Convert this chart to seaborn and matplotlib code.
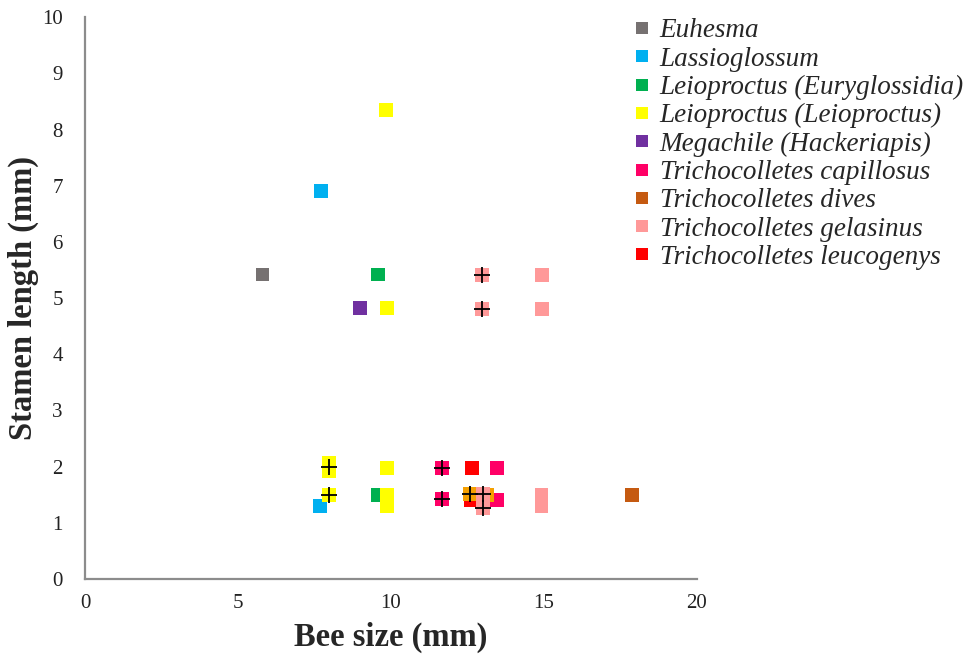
import matplotlib
matplotlib.use("Agg")
import matplotlib.pyplot as plt
from matplotlib.lines import Line2D
import seaborn as sns
import pandas as pd

# Legend taxa and their colours
taxa = [
    "Euhesma",
    "Lassioglossum",
    "Leioproctus (Euryglossidia)",
    "Leioproctus (Leioproctus)",
    "Megachile (Hackeriapis)",
    "Trichocolletes capillosus",
    "Trichocolletes dives",
    "Trichocolletes gelasinus",
    "Trichocolletes leucogenys",
]
colors = [
    "#767171", "#00B0F0", "#00B050", "#FFFF00", "#7030A0",
    "#FF0066", "#C55A11", "#FF9999", "#FF0000",
]

# Bee size (mm) and stamen length (mm) per taxon
euhesma_x, euhesma_y = [5.8], [5.42]
lassio_x, lassio_y = [7.7, 7.68], [6.9, 1.3]
eury_x, eury_y = [9.57, 9.56], [5.42, 1.49]
leio_x = [9.85, 9.87, 9.86, 7.97, 7.97, 7.97, 9.86, 9.86]
leio_y = [8.35, 4.82, 1.98, 2.06, 1.93, 1.49, 1.49, 1.29]
mega_x, mega_y = [8.99], [4.82]
capil_x = [11.67, 11.67, 13.46, 13.46]
capil_y = [1.97, 1.43, 1.98, 1.41]
dives_x, dives_y = [17.88], [1.49]
leuco_x, leuco_y = [12.65, 12.6], [1.98, 1.4]
# orange-marked dives records inside the 12-13 mm cluster
dives_light_x, dives_light_y = [12.58, 13.15], [1.51, 1.5]
gelas_x = [12.97, 12.97, 14.93, 14.93, 13.0, 13.0, 14.92, 14.92]
gelas_y = [5.41, 4.8, 5.41, 4.8, 1.51, 1.26, 1.49, 1.29]

# Records flagged with a cross
cross_x = [7.97, 7.97, 11.67, 11.67, 12.58, 13.0, 13.0, 12.97, 12.97]
cross_y = [1.99, 1.49, 1.97, 1.43, 1.51, 1.51, 1.26, 5.41, 4.8]

# drawing order (later rows sit on top)
groups = [
    ("Euhesma", euhesma_x, euhesma_y),
    ("Lassioglossum", lassio_x, lassio_y),
    ("Leioproctus (Euryglossidia)", eury_x, eury_y),
    ("Leioproctus (Leioproctus)", leio_x, leio_y),
    ("Megachile (Hackeriapis)", mega_x, mega_y),
    ("Trichocolletes capillosus", capil_x, capil_y),
    ("Trichocolletes dives", dives_x, dives_y),
    ("Trichocolletes leucogenys", leuco_x, leuco_y),
    ("dives (light)", dives_light_x, dives_light_y),
    ("Trichocolletes gelasinus", gelas_x, gelas_y),
]
rows = []
for name, xs, ys in groups:
    for x, y in zip(xs, ys):
        rows.append({"taxon": name, "bee": x, "stamen": y})
df = pd.DataFrame(rows)

palette = dict(zip(taxa, colors))
palette["dives (light)"] = "#F5A000"

sns.set_style("white")
plt.rcParams["font.family"] = ["Liberation Serif", "DejaVu Serif"]

fig = plt.figure(figsize=(9.8, 6.59), dpi=100)
ax = fig.add_axes([0.0867, 0.1214, 0.6245, 0.8526])

sns.scatterplot(data=df, x="bee", y="stamen", hue="taxon", palette=palette,
                marker="s", s=100, linewidth=0, legend=False, ax=ax, zorder=3)
ax.plot(cross_x, cross_y, linestyle="none", marker="+", color="black",
        markersize=12, markeredgewidth=1.3, zorder=4)

ax.set_xlim(0, 20)
ax.set_ylim(0, 10)
ax.set_xticks([0, 5, 10, 15, 20])
ax.set_yticks(range(0, 11))
ax.tick_params(axis="both", length=0, labelsize=15, colors="#222222")
ax.tick_params(axis="y", pad=16)
ax.tick_params(axis="x", pad=11)
for side in ("top", "right"):
    ax.spines[side].set_visible(False)
for side in ("left", "bottom"):
    ax.spines[side].set_color("#8c8c8c")
    ax.spines[side].set_linewidth(1.6)
ax.grid(False)

ax.set_xlabel("Bee size (mm)", fontsize=23.5, fontweight="bold", labelpad=6)
ax.set_ylabel("Stamen length (mm)", fontsize=23.5, fontweight="bold", labelpad=2)

handles = [Line2D([], [], linestyle="none", marker="s", markersize=8.5,
                  markerfacecolor=c, markeredgewidth=0) for c in colors]
leg = fig.legend(handles, taxa, loc="upper left", bbox_to_anchor=(0.647, 0.972),
                 frameon=False, prop={"family": "Liberation Serif", "style": "italic", "size": 19.5},
                 handlelength=0.6, handletextpad=0.35, labelspacing=0.12,
                 borderaxespad=0, borderpad=0)

fig.savefig("out.png", dpi=100)
